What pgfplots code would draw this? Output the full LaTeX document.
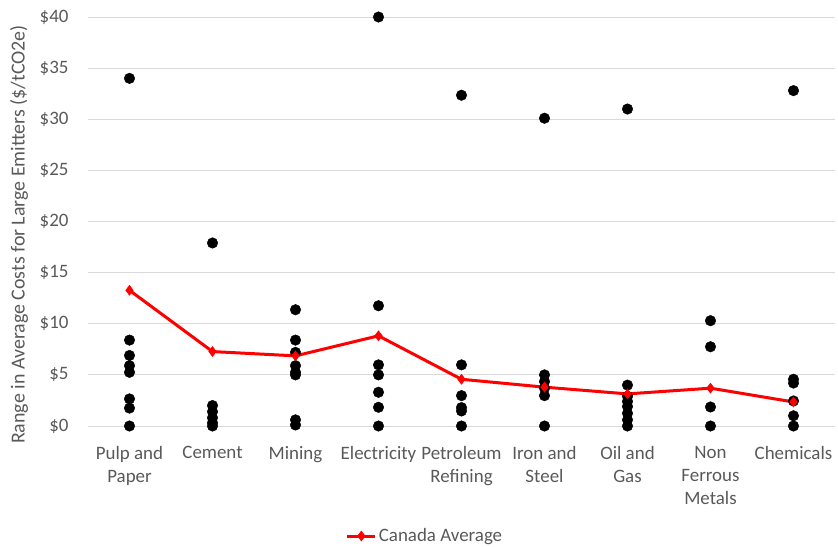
\documentclass[border=0pt]{standalone}
\usepackage{pgfplots}
\pgfplotsset{compat=1.18}
\usepackage{fontspec}
\setmainfont{Carlito}
\definecolor{txt}{HTML}{595959}
\definecolor{grd}{HTML}{D9D9D9}
\begin{document}
\begin{tikzpicture}
\fontsize{19}{22}\selectfont
\path[use as bounding box] (-88bp,-121bp) rectangle (750bp,426bp);
\begin{axis}[
  at={(0,0)}, anchor=south west,
  scale only axis, width=747bp, height=409bp,
  xmin=-0.5, xmax=8.5, ymin=0, ymax=40,
  ytick={0,5,...,40},
  xtick={0,...,8},
  xticklabels={{Pulp and\\Paper},Cement,Mining,Electricity,{Petroleum\\Refining},{Iron and\\Steel},{Oil and\\Gas},{Non\\Ferrous\\Metals},Chemicals},
  xticklabel style={align=center, text=txt, font=\fontsize{19}{23}\selectfont, yshift=-14bp},
  yticklabel={\$\pgfmathprintnumber{\tick}},
  yticklabel style={text=txt, font=\fontsize{19}{22}\selectfont, xshift=-13bp},
  /pgf/number format/assume math mode=true,
  ymajorgrids, grid style={grd, line width=1bp},
  axis line style={draw=none},
  axis x line*=bottom,
  x axis line style={draw=grd, line width=1bp},
  major tick length=0pt,
  ylabel={Range in Average Costs for Large Emitters (\$/tCO2e)},
  every axis y label/.style={at={(axis description cs:0,0.5)}, xshift=-69bp, yshift=-13bp, rotate=90, anchor=center, text=txt, font=\fontsize{20}{23}\selectfont},
  clip=false,
  legend style={at={(337bp,-110bp)}, anchor=center, draw=none, fill=none, font=\fontsize{19}{22}\selectfont, text=txt, legend cell align=left, /tikz/every even column/.append style={column sep=2bp}},
  legend image code/.code={\draw[#1, mark repeat=2, mark phase=2] plot coordinates {(0bp,0bp) (14bp,0bp) (28bp,0bp)};},
]
\addplot[only marks, mark=*, mark size=5.3bp, black, forget plot] coordinates {
(0,34.0) (0,8.4) (0,6.9) (0,5.9) (0,5.25) (0,2.65) (0,1.75) (0,0)
(1,17.9) (1,2.0) (1,1.4) (1,0.8) (1,0.3) (1,0)
(2,11.37) (2,8.4) (2,7.2) (2,5.9) (2,5.25) (2,5.0) (2,0.6) (2,0.1)
(3,40.0) (3,11.76) (3,5.98) (3,5.0) (3,3.3) (3,1.83) (3,0)
(4,32.35) (4,5.98) (4,2.97) (4,1.8) (4,1.47) (4,0)
(5,30.1) (5,5.0) (5,4.35) (5,3.7) (5,2.97) (5,0)
(6,31.0) (6,4.0) (6,2.9) (6,2.4) (6,1.9) (6,1.24) (6,0.6) (6,0)
(7,10.3) (7,7.75) (7,1.86) (7,0)
(8,32.8) (8,4.57) (8,4.2) (8,2.45) (8,1.0) (8,0)
};
\addplot[red, line width=3bp, mark=diamond*, mark size=5bp, mark options={fill=red, line width=0.5bp}] coordinates {
(0,13.27) (1,7.28) (2,6.86) (3,8.82) (4,4.57) (5,3.8) (6,3.14) (7,3.7) (8,2.35)
};
\addlegendentry{Canada Average}
\end{axis}
\end{tikzpicture}
\end{document}
